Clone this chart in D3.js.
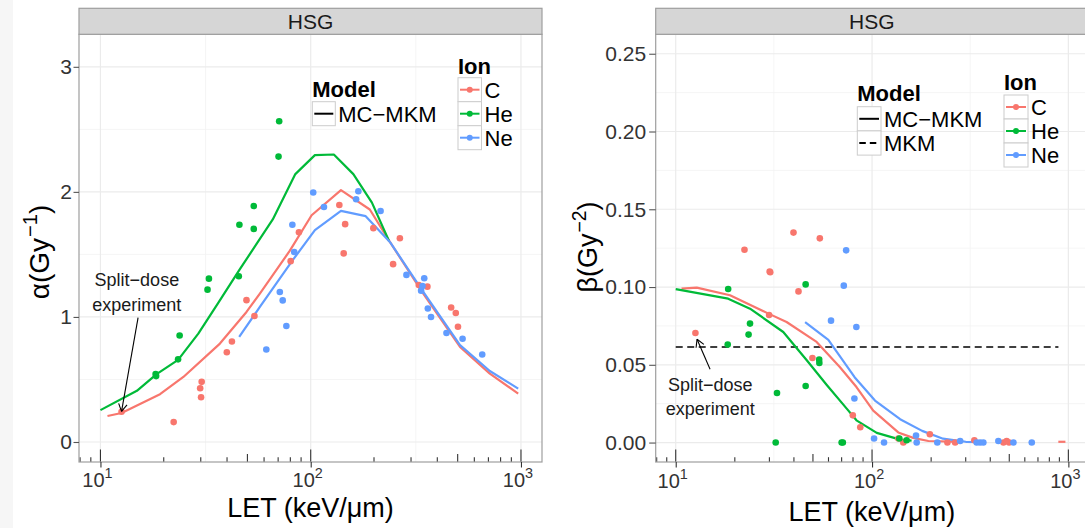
<!DOCTYPE html>
<html><head><meta charset="utf-8">
<script src="https://cdn.jsdelivr.net/npm/d3@7"></script>
<style>
body{margin:0;background:#fff}
svg{display:block}
text{font-family:"Liberation Sans",Arial,Helvetica,sans-serif}
</style>
</head><body>
<svg id="c" width="1085" height="528"></svg>
<script>
// ---------------- DATA ----------------
const ions = ["C", "He", "Ne"];
const ionColors = ["#F8766D", "#00BA38", "#619CFF"];
const xTickValues = [10, 100, 1000];
const xTickExponents = ["1", "2", "3"];

// alpha panel: measured points [LET, alpha]
const alphaPointsC = [[12.6,0.242],[22.3,0.159],[30.3,0.481],[29.8,0.430],[30.1,0.358],[39.9,0.718],[42.2,0.804],[49.5,1.134],[54.0,1.008],[80.3,1.446],[87.9,1.677],[136.8,1.895],[145.8,1.742],[143.5,1.508],[198.6,1.710],[265.5,1.629],[246.5,1.422],[326.6,1.255],[358.9,1.242],[465.5,1.075],[489.7,1.032],[501.6,0.922]];
const alphaPointsHe = [[18.3,0.543],[18.4,0.527],[23.4,0.661],[23.8,0.852],[32.3,1.218],[32.8,1.306],[45.5,1.325],[45.8,1.737],[53.6,1.887],[53.6,1.704],[70.3,2.282],[70.8,2.565]];
const alphaPointsNe = [[61.5,0.739],[71.3,1.199],[73.6,1.132],[76.6,0.927],[81.8,1.737],[83.5,1.519],[102.8,1.995],[115.6,1.879],[164.4,1.941],[168.5,2.005],[214.9,1.847],[285.3,1.336],[335.0,1.210],[340.1,1.247],[346.7,1.309],[360.6,1.067],[373.4,1.000],[442.2,0.871],[527.6,0.825],[654.2,0.699]];

// alpha panel: MC-MKM model curves
const alphaLineC_LET = [10.8, 12.6, 19.2, 24.8, 37, 49.5, 57.3, 79.6, 101, 139.3, 191, 238, 343, 513, 711, 970];
const alphaLineC = [0.208, 0.232, 0.382, 0.52, 0.787, 1.04, 1.187, 1.53, 1.813, 2.014, 1.859, 1.60, 1.187, 0.76, 0.547, 0.387];
const alphaLineHe_LET = [10, 14.9, 18.5, 23.4, 29.2, 36.2, 45.8, 66, 84.5, 104.7, 128.8, 159.5, 195.5, 236];
const alphaLineHe = [0.255, 0.409, 0.543, 0.656, 0.866, 1.108, 1.376, 1.78, 2.142, 2.294, 2.299, 2.142, 1.914, 1.605];
const alphaLineNe_LET = [45.7, 57.3, 82.6, 104.7, 139.3, 182.6, 238, 343, 513, 711, 970];
const alphaLineNe = [0.84, 1.08, 1.46, 1.694, 1.848, 1.806, 1.60, 1.20, 0.775, 0.568, 0.427];

// beta panel: measured points [LET, beta]
const betaPointsC = [[12.6,0.0704],[22.4,0.124],[29.9,0.082],[30.1,0.110],[30.3,0.1095],[39.8,0.135],[42.2,0.0972],[49.7,0.0544],[54.2,0.1313],[79.8,0.0175],[87.1,0.0098],[136.2,0.0026],[144.3,0],[197,0.0053],[242,0],[265,0],[332,0.0015],[467,0],[485,0.001],[499,0]];
const betaPointsHe = [[18.4,0.063],[18.5,0.0987],[23.5,0.0694],[23.9,0.0765],[32.3,0],[32.8,0.0319],[45.9,0.0364],[45.9,0.1017],[53.8,0.0533],[53.9,0.0512],[70.0,0],[71.0,0],[137.7,0.0026],[150,0.0015]];
const betaPointsNe = [[61.8,0.0784],[71.8,0.1009],[73.8,0.1236],[81.3,0.0283],[83.2,0.0743],[102.4,0.0026],[115.1,0],[167.5,0.0045],[168.8,0],[215,0],[281,0.001],[341,0],[355,0],[369,0],[440,0.001],[525,0],[651,0]];

// beta panel: MC-MKM model curves
const betaLineC_LET = [10.7, 12.8, 18.9, 29.7, 36.7, 52.2, 68.5, 83.3, 101.4, 136, 162, 193.7, 286];
const betaLineC = [0.099, 0.0996, 0.0947, 0.0829, 0.0775, 0.0647, 0.0486, 0.0357, 0.0205, 0.0065, 0.003, 0.001, 0.0005];
const betaTailC_LET = [889, 966];
const betaTailC = [0.0005, 0.0005];
const betaLineHe_LET = [10, 18.5, 23.9, 35.3, 46.5, 58.8, 74.3, 83.3, 105.7, 139, 159];
const betaLineHe = [0.0987, 0.0925, 0.0861, 0.0711, 0.0529, 0.037, 0.0218, 0.0143, 0.0062, 0.0019, 0.0013];
const betaLineNe_LET = [45.6, 59.9, 81.5, 103.5, 139, 180, 230, 300, 380];
const betaLineNe = [0.0775, 0.066, 0.042, 0.027, 0.015, 0.0075, 0.0025, 0.0005, 0.0003];
// beta panel: MKM (constant)
const betaMKM_LET = [10, 890];
const betaMKM = [0.0614, 0.0614];

// axis ticks
const alphaTicks = [0, 1, 2, 3];
const betaTicks = [0, 0.05, 0.10, 0.15, 0.20, 0.25];

// ---------------- DRAW ----------------
const svg = d3.select("#c");
svg.append("rect").attr("width", 1085).attr("height", 528).attr("fill", "#fff");
svg.append("rect").attr("x", 0).attr("y", 0).attr("width", 13).attr("height", 528).attr("fill", "#f6f6f6");

const xDomain = [Math.pow(10, 0.898), Math.pow(10, 3.1)];
const PT = 34.3, PB = 462, ST = 8.3;

function drawPanel(P) {
  const g = svg.append("g");
  const x = d3.scaleLog().domain(xDomain).range([P.x0, P.x1]);
  const y = d3.scaleLinear().domain(P.yDomain).range([PB, PT]);

  g.append("rect").attr("x", P.x0).attr("y", PT).attr("width", P.x1 - P.x0).attr("height", PB - PT).attr("fill", "#fff");

  // grid
  const xMinor = [Math.pow(10, 1.5), Math.pow(10, 2.5)];
  g.selectAll(".vminor").data(xMinor).join("line")
    .attr("x1", d => x(d)).attr("x2", d => x(d)).attr("y1", PT).attr("y2", PB)
    .attr("stroke", "#f3f3f3").attr("stroke-width", 0.8);
  g.selectAll(".hminor").data(P.yMinor).join("line")
    .attr("x1", P.x0).attr("x2", P.x1).attr("y1", d => y(d)).attr("y2", d => y(d))
    .attr("stroke", "#f3f3f3").attr("stroke-width", 0.8);
  g.selectAll(".vmajor").data(xTickValues).join("line")
    .attr("x1", d => x(d)).attr("x2", d => x(d)).attr("y1", PT).attr("y2", PB)
    .attr("stroke", "#ebebeb").attr("stroke-width", 1.2);
  g.selectAll(".hmajor").data(P.yTicks).join("line")
    .attr("x1", P.x0).attr("x2", P.x1).attr("y1", d => y(d)).attr("y2", d => y(d))
    .attr("stroke", "#ebebeb").attr("stroke-width", 1.2);

  const line = d3.line().x(d => x(d[0])).y(d => y(d[1]));

  // model lines
  if (P.dashed) {
    g.append("path").datum(d3.zip(P.dashed[0], P.dashed[1])).attr("d", line)
      .attr("fill", "none").attr("stroke", "#000").attr("stroke-width", 1.4).attr("stroke-dasharray", "7,4.5");
  }
  P.lines.forEach(L => {
    g.append("path").datum(d3.zip(L.x, L.y)).attr("d", line)
      .attr("fill", "none").attr("stroke", ionColors[L.ion]).attr("stroke-width", 2.2)
      .attr("stroke-linejoin", "round");
  });
  // points
  P.points.forEach(S => {
    g.selectAll(null).data(S.d).join("circle")
      .attr("cx", d => x(d[0])).attr("cy", d => y(d[1])).attr("r", 3.3)
      .attr("fill", ionColors[S.ion]);
  });

  // log ticks (inside, bottom)
  const lt = [];
  [1, 10, 100, 1000].forEach(dec => { for (let k = 1; k <= 9; k++) { const v = k * dec; if (v >= xDomain[0] && v <= xDomain[1]) lt.push({ v, k }); } });
  g.selectAll(".lt").data(lt).join("line")
    .attr("x1", d => x(d.v)).attr("x2", d => x(d.v))
    .attr("y1", PB).attr("y2", d => PB - (d.k === 1 ? 12.5 : d.k === 5 ? 8 : 4.8))
    .attr("stroke", "#333").attr("stroke-width", 1.1);

  // panel border
  g.append("rect").attr("x", P.x0).attr("y", PT).attr("width", P.x1 - P.x0).attr("height", PB - PT)
    .attr("fill", "none").attr("stroke", "#9e9e9e").attr("stroke-width", 1.2);

  // strip
  g.append("rect").attr("x", P.x0).attr("y", ST).attr("width", P.x1 - P.x0).attr("height", PT - ST)
    .attr("fill", "#d6d6d6").attr("stroke", "#9e9e9e").attr("stroke-width", 1.2);
  g.append("text").attr("x", (P.x0 + P.x1) / 2).attr("y", ST + (PT - ST) / 2 + 7.6)
    .attr("text-anchor", "middle").attr("font-size", 21).attr("fill", "#1a1a1a").text("HSG");

  // y axis
  const ya = g.append("g").attr("transform", `translate(${P.x0},0)`)
    .call(d3.axisLeft(y).tickValues(P.yTicks).tickSize(P.yTickSize).tickPadding(P.yTickPad).tickFormat(P.yFmt));
  ya.select(".domain").remove();
  ya.selectAll(".tick line").attr("stroke", "#555").attr("stroke-width", 1.1);
  ya.selectAll(".tick text").attr("font-size", P.yTickFont).attr("fill", "#333")
    .attr("font-family", "Liberation Sans, Arial, sans-serif");

  // x axis
  const xa = g.append("g").attr("transform", `translate(0,${PB})`)
    .call(d3.axisBottom(x).tickValues(xTickValues).tickSize(5.5).tickFormat(""));
  xa.select(".domain").remove();
  xa.selectAll(".tick line").attr("stroke", "#333").attr("stroke-width", 1.1);
  const xl = g.selectAll(".xl").data(xTickValues).join("text")
    .attr("x", d => x(d) - 3).attr("y", P.xLabBase).attr("text-anchor", "middle")
    .attr("font-size", P.xTickFont).attr("fill", "#333");
  xl.append("tspan").text("10");
  xl.append("tspan").attr("font-size", P.xTickFont * 0.72).attr("dy", -P.xTickFont * 0.45).text((d, i) => xTickExponents[i]);

  // axis titles
  g.append("text").attr("x", (P.x0 + P.x1) / 2).attr("y", P.xTitleBase).attr("text-anchor", "middle")
    .attr("font-size", 27).attr("fill", "#000").text("LET (keV/μm)");
  const yt = g.append("text").attr("transform", `translate(${P.yTitleX},${P.yTitleY}) rotate(-90)`)
    .attr("text-anchor", "middle").attr("font-size", P.yTitleFont).attr("fill", "#000");
  yt.append("tspan").text(P.yGreek + "(Gy");
  yt.append("tspan").attr("font-size", P.yTitleFont * 0.72).attr("dy", -P.yTitleFont * 0.42).attr("dx", 1).text(P.yExp);
  yt.append("tspan").attr("dy", P.yTitleFont * 0.42).text(")");

  // annotation
  const A = P.ann;
  [["Split−dose", A.b1], ["experiment", A.b2]].forEach(([t, yy]) => {
    g.append("text").attr("x", x(A.tx)).attr("y", y(yy)).attr("text-anchor", "middle")
      .attr("font-size", 18).attr("fill", "#1a1a1a").text(t);
  });
  const sx = x(A.from[0]), sy = y(A.from[1]), ex = x(A.to[0]), ey = y(A.to[1]);
  g.append("line").attr("x1", sx).attr("y1", sy).attr("x2", ex).attr("y2", ey).attr("stroke", "#000").attr("stroke-width", 1.1);
  const ang = Math.atan2(ey - sy, ex - sx), hl = 8.5;
  [Math.PI / 6, -Math.PI / 6].forEach(a => {
    g.append("line").attr("x1", ex).attr("y1", ey)
      .attr("x2", ex - hl * Math.cos(ang + a)).attr("y2", ey - hl * Math.sin(ang + a))
      .attr("stroke", "#000").attr("stroke-width", 1.1);
  });

  // legends
  const Lm = P.modelLeg;
  g.append("text").attr("x", Lm.x).attr("y", Lm.titleBase).attr("font-size", 22).attr("font-weight", "bold").text("Model");
  Lm.items.forEach((it, i) => {
    const ky = Lm.y + i * Lm.h;
    g.append("rect").attr("x", Lm.x).attr("y", ky).attr("width", Lm.w).attr("height", Lm.h)
      .attr("fill", "#fff").attr("stroke", "#cccccc").attr("stroke-width", 1);
    g.append("line").attr("x1", Lm.x + 2).attr("x2", Lm.x + Lm.w - 2).attr("y1", ky + Lm.h / 2).attr("y2", ky + Lm.h / 2)
      .attr("stroke", "#000").attr("stroke-width", 2).attr("stroke-dasharray", it.dash ? "6.5,4" : null);
    g.append("text").attr("x", Lm.x + Lm.w + 3).attr("y", ky + Lm.h / 2 + 8).attr("font-size", 22).text(it.label);
  });
  const Li = P.ionLeg;
  g.append("text").attr("x", Li.x).attr("y", Li.titleBase).attr("font-size", 22).attr("font-weight", "bold").text("Ion");
  ions.forEach((ion, i) => {
    const ky = Li.y + i * Li.h;
    g.append("rect").attr("x", Li.x).attr("y", ky).attr("width", Li.w).attr("height", Li.h)
      .attr("fill", "#fff").attr("stroke", "#cccccc").attr("stroke-width", 1);
    g.append("line").attr("x1", Li.x + 2).attr("x2", Li.x + Li.w - 2).attr("y1", ky + Li.h / 2).attr("y2", ky + Li.h / 2)
      .attr("stroke", ionColors[i]).attr("stroke-width", 2);
    g.append("circle").attr("cx", Li.x + Li.w / 2).attr("cy", ky + Li.h / 2).attr("r", 3).attr("fill", ionColors[i]);
    g.append("text").attr("x", Li.x + Li.w + 3).attr("y", ky + Li.h / 2 + 8).attr("font-size", 22).text(ion);
  });
}

drawPanel({
  x0: 79, x1: 542, yDomain: [-0.16, 3.26],
  yTicks: alphaTicks, yMinor: [0.5, 1.5, 2.5], yFmt: d => d3.format("d")(d),
  yTickSize: 5.5, yTickPad: 1.5, yTickFont: 21,
  xTickFont: 20, xLabBase: 487, xTitleBase: 517,
  yTitleX: 49, yTitleY: 252, yTitleFont: 28, yGreek: "α", yExp: "−1",
  lines: [
    { ion: 0, x: alphaLineC_LET, y: alphaLineC },
    { ion: 1, x: alphaLineHe_LET, y: alphaLineHe },
    { ion: 2, x: alphaLineNe_LET, y: alphaLineNe }
  ],
  points: [{ ion: 0, d: alphaPointsC }, { ion: 1, d: alphaPointsHe }, { ion: 2, d: alphaPointsNe }],
  ann: { tx: 14.9, b1: 1.245, b2: 1.05, from: [15.1, 0.995], to: [12.6, 0.245] },
  modelLeg: { x: 312.3, titleBase: 97, y: 101.7, w: 23, h: 24, items: [{ label: "MC−MKM" }] },
  ionLeg: { x: 458, titleBase: 74, y: 77.7, w: 23.5, h: 24 }
});

drawPanel({
  x0: 655.7, x1: 1088, yDomain: [-0.0125, 0.2625],
  yTicks: betaTicks, yMinor: [0.025, 0.075, 0.125, 0.175, 0.225], yFmt: d => d3.format(".2f")(d),
  yTickSize: 6.5, yTickPad: 3, yTickFont: 21,
  xTickFont: 20, xLabBase: 488, xTitleBase: 520.5,
  yTitleX: 597, yTitleY: 247, yTitleFont: 27, yGreek: "β", yExp: "−2",
  dashed: [betaMKM_LET, betaMKM],
  lines: [
    { ion: 0, x: betaLineC_LET, y: betaLineC },
    { ion: 0, x: betaTailC_LET, y: betaTailC },
    { ion: 1, x: betaLineHe_LET, y: betaLineHe },
    { ion: 2, x: betaLineNe_LET, y: betaLineNe }
  ],
  points: [{ ion: 0, d: betaPointsC }, { ion: 1, d: betaPointsHe }, { ion: 2, d: betaPointsNe }],
  ann: { tx: 15, b1: 0.0332, b2: 0.0178, from: [14.96, 0.0471], to: [12.84, 0.0664] },
  modelLeg: { x: 857.3, titleBase: 101, y: 106.7, w: 23.7, h: 24.2, items: [{ label: "MC−MKM" }, { label: "MKM", dash: true }] },
  ionLeg: { x: 1004, titleBase: 90, y: 95, w: 24, h: 24 }
});
</script>
</body></html>
